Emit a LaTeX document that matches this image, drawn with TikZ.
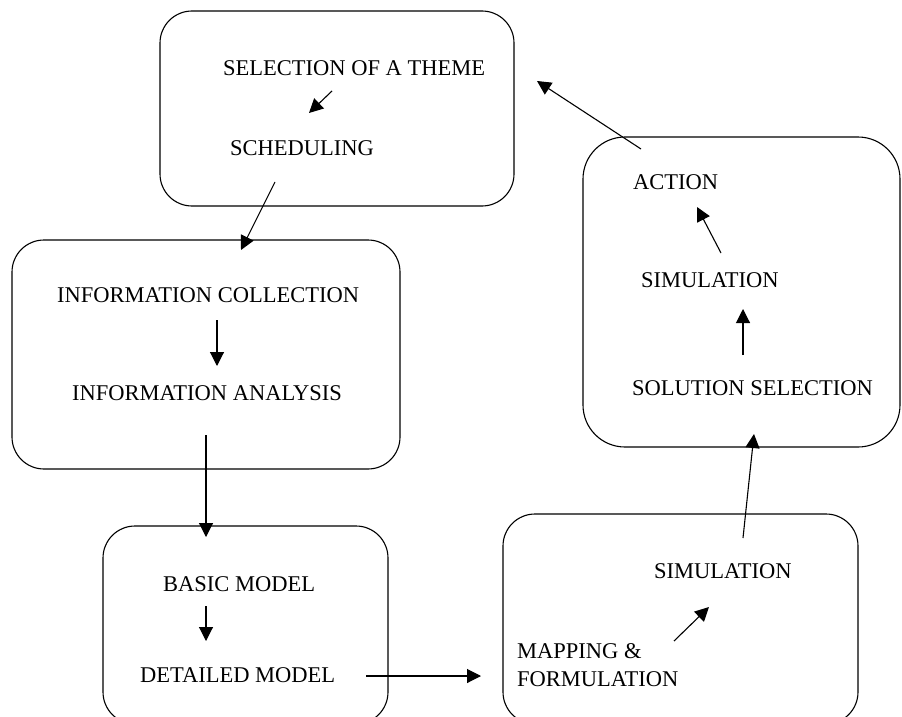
\documentclass[tikz,border=0pt]{standalone}
\usepackage{fontspec}
\setmainfont{Liberation Serif}
\usetikzlibrary{arrows.meta}
\begin{document}
\begin{tikzpicture}[x=1pt,y=-1pt,
  box/.style={draw, line width=1.1pt, rounded corners=32pt},
  lbl/.style={anchor=base west, inner sep=0pt, font=\fontsize{22.5}{27}\selectfont},
  flow/.style={line width=1.1pt, -{Triangle[length=14pt,width=14pt]}}]
\useasboundingbox (0,0) rectangle (902,717);
\clip (0,0) rectangle (902,717);

% stage boxes
\draw[box] (160,11) rectangle (514,206);
\draw[box] (12,240) rectangle (400,469);
\draw[box] (103,526) rectangle (388,724);
\draw[box] (503,514) rectangle (858,724);
\draw[box, rounded corners=42pt] (583,137) rectangle (900,447);

% labels
\node[lbl] (theme) at (223,75) {SELECTION OF A THEME};
\node[lbl] (sched) at (230,155) {SCHEDULING};
\node[lbl] (icoll) at (57,302) {INFORMATION COLLECTION};
\node[lbl] (ianal) at (72,400) {INFORMATION ANALYSIS};
\node[lbl] (basic) at (163,591) {BASIC MODEL};
\node[lbl] (detail) at (140,682) {DETAILED MODEL};
\node[lbl] (mapA) at (517,658) {MAPPING \&};
\node[lbl] (mapB) at (517,686) {FORMULATION};
\node[lbl] (simA) at (654,578) {SIMULATION};
\node[lbl] (solsel) at (632,395) {SOLUTION SELECTION};
\node[lbl] (simB) at (641,287) {SIMULATION};
\node[lbl] (action) at (633,189) {ACTION};

% connector end points
\coordinate (p1s) at (332,91);  \coordinate (p1e) at (309,113);
\coordinate (p2s) at (275,182); \coordinate (p2e) at (241,250);
\coordinate (p3s) at (217,320); \coordinate (p3e) at (217,366);
\coordinate (p4s) at (206,435); \coordinate (p4e) at (206,537);
\coordinate (p5s) at (206,606); \coordinate (p5e) at (206,641);
\coordinate (p6s) at (366,676); \coordinate (p6e) at (481,676);
\coordinate (p7s) at (674,641); \coordinate (p7e) at (709,607);
\coordinate (p8s) at (743,538); \coordinate (p8e) at (754,434);
\coordinate (p9s) at (743,355); \coordinate (p9e) at (743,309);
\coordinate (p10s) at (721,253); \coordinate (p10e) at (697,207);
\coordinate (p11s) at (641,149); \coordinate (p11e) at (537,81);

% flow arrows
\draw[flow] (p1s) -- (p1e);
\draw[flow] (p2s) -- (p2e);
\draw[flow] (p3s) -- (p3e);
\draw[flow] (p4s) -- (p4e);
\draw[flow] (p5s) -- (p5e);
\draw[flow] (p6s) -- (p6e);
\draw[flow] (p7s) -- (p7e);
\draw[flow] (p8s) -- (p8e);
\draw[flow] (p9s) -- (p9e);
\draw[flow] (p10s) -- (p10e);
\draw[flow] (p11s) -- (p11e);
\end{tikzpicture}
\end{document}
